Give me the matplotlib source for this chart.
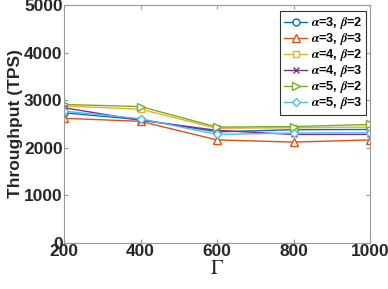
import matplotlib
matplotlib.use("Agg")
import matplotlib.pyplot as plt

gamma = [200, 400, 600, 800, 1000]
labels = [r'$\boldsymbol{\alpha}$=3, $\boldsymbol{\beta}$=2',
          r'$\boldsymbol{\alpha}$=3, $\boldsymbol{\beta}$=3',
          r'$\boldsymbol{\alpha}$=4, $\boldsymbol{\beta}$=2',
          r'$\boldsymbol{\alpha}$=4, $\boldsymbol{\beta}$=3',
          r'$\boldsymbol{\alpha}$=5, $\boldsymbol{\beta}$=2',
          r'$\boldsymbol{\alpha}$=5, $\boldsymbol{\beta}$=3']
a3b2 = [2735, 2590, 2335, 2380, 2385]
a3b3 = [2620, 2555, 2165, 2120, 2165]
a4b2 = [2880, 2810, 2410, 2420, 2435]
a4b3 = [2840, 2580, 2365, 2280, 2280]
a5b2 = [2910, 2865, 2435, 2445, 2490]
a5b3 = [2770, 2610, 2280, 2310, 2315]
series = [a3b2, a3b3, a4b2, a4b3, a5b2, a5b3]
colors = ['#0072BD', '#D95319', '#EDB120', '#7E2F8E', '#77AC30', '#4DBEEE']
markers = ['o', '^', 's', 'x', '>', 'D']
msizes = [5, 5.5, 4.5, 4, 6, 4.5]

plt.rcParams['font.family'] = ['Liberation Sans', 'DejaVu Sans']
plt.rcParams['mathtext.fontset'] = 'stix'
fig = plt.figure(figsize=(3.88, 2.89), dpi=100)
ax = fig.add_axes([0.165, 0.159, 0.789, 0.824])
for s, c, m, ms, lab in zip(series, colors, markers, msizes, labels):
    ax.plot(gamma, s, color=c, marker=m, markersize=ms, markerfacecolor='white' if m != 'x' else c,
            markeredgecolor=c, markeredgewidth=1.0, linewidth=1.0, label=lab)
ax.set_xlim(200, 1000)
ax.set_ylim(0, 5000)
ax.set_xticks(gamma)
ax.set_yticks([0, 1000, 2000, 3000, 4000, 5000])
for sp in ax.spines.values():
    sp.set_color('#999999')
    sp.set_linewidth(0.8)
ax.tick_params(direction='in', length=3, color='#999999', labelsize=12.5, pad=1, top=True, right=True)
for t in ax.get_xticklabels() + ax.get_yticklabels():
    t.set_fontweight('bold')
    t.set_color('#262626')
ax.set_ylabel('Throughput (TPS)', fontsize=12.5, fontweight='bold', color='#262626', labelpad=1)
ax.set_xlabel(r'$\Gamma$', fontsize=15, color='#262626', labelpad=0)
leg = ax.legend(loc='upper right', bbox_to_anchor=(0.987, 0.973), handlelength=1.8, handletextpad=0.3,
                labelspacing=0.0, borderpad=0.3, borderaxespad=0.0, fancybox=False,
                framealpha=1, edgecolor='#333333', prop={'weight': 'bold', 'size': 9.2})
leg.get_frame().set_linewidth(0.8)
fig.savefig('out.png', dpi=100)
